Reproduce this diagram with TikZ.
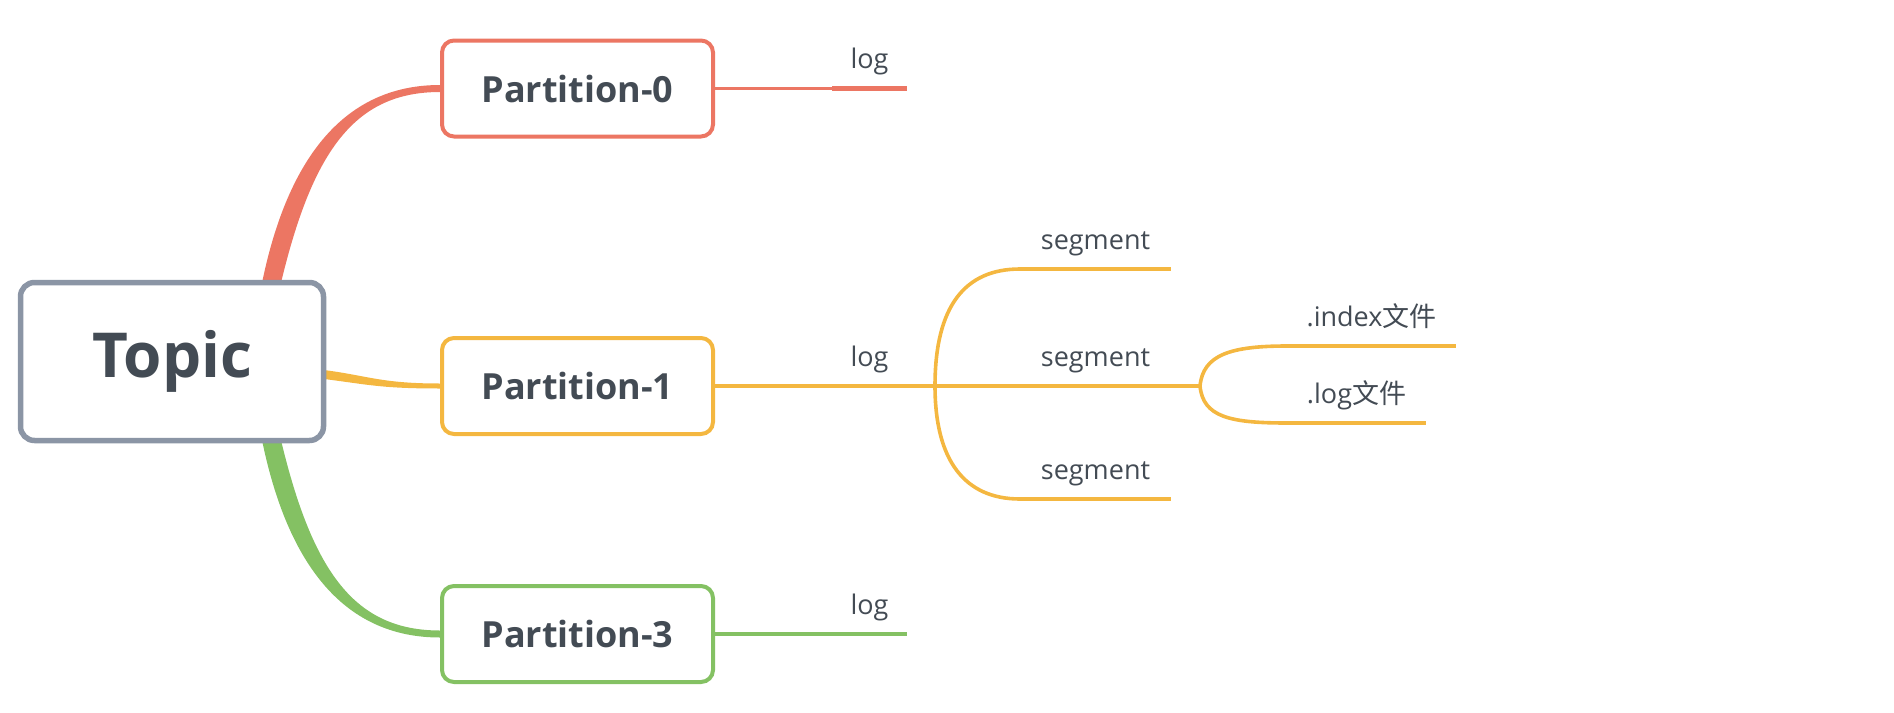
\documentclass[tikz,border=0pt]{standalone}
\usepackage{fontspec}
\setmainfont{Open Sans}
\newfontfamily\cjk{Noto Sans CJK SC}
\usetikzlibrary{backgrounds}
\definecolor{topicgray}{HTML}{8B95A5}
\definecolor{inkgray}{HTML}{434B54}
\definecolor{branchred}{HTML}{EC7663}
\definecolor{branchyellow}{HTML}{F4B740}
\definecolor{branchgreen}{HTML}{84C163}
\begin{document}
\begin{tikzpicture}[x=0.5pt,y=-0.5pt,
	topicbox/.style={draw=topicgray,line width=2.75pt,rounded corners=7pt,fill=white,minimum width=151.5pt,minimum height=79pt,text=inkgray,font=\fontsize{31}{34}\selectfont\bfseries},
	partbox/.style={draw=#1,line width=2pt,rounded corners=6pt,fill=white,minimum width=135.5pt,minimum height=48pt,text=inkgray,font=\fontsize{18}{20}\selectfont\bfseries},
	leaf/.style={anchor=south,inner xsep=0pt,inner ysep=10pt,outer sep=0pt,text depth=0pt,text=inkgray,font=\fontsize{13.5}{15}\selectfont},
	uline/.style={draw=#1,line width=2.25pt},
	conn/.style={draw=#1,line width=1.8pt}]
	   \useasboundingbox (0,0) rectangle (1894,712);
	   \node [topicbox] (topic) at (172,361.5) {Topic};
	   \node [partbox=branchred] (p0) at (577.5,88.5) {Partition-0};
	   \node [partbox=branchyellow] (p1) at (577.5,386) {Partition-1};
	   \node [partbox=branchgreen] (p3) at (577.5,634) {Partition-3};
	   \node [leaf,minimum width=37.5pt] (log0) at (869.5,88.5) {log};
	   \node [leaf,minimum width=37.5pt] (log1) at (869.5,386) {log};
	   \node [leaf,minimum width=37.5pt] (log3) at (869.5,634) {log};
	   \node [leaf,minimum width=75.5pt] (seg0) at (1095.5,269) {segment};
	   \node [leaf,minimum width=75.5pt] (seg1) at (1095.5,386) {segment};
	   \node [leaf,minimum width=75.5pt] (seg2) at (1095.5,499) {segment};
	   \node [leaf,minimum width=84.5pt] (idxfile) at (1371.5,346) {.index{\cjk 文件}};
	   \node [leaf,minimum width=69.5pt] (logfile) at (1356.5,423) {.log{\cjk 文件}};
	   \coordinate (fork1) at ([xshift=14pt]log1.south east);
	   \coordinate (fork2) at ([xshift=14.5pt]seg1.south east);
	   \begin{scope}[on background layer]
	   \fill [branchred] ([xshift=-32pt,yshift=-1pt]topic.north east) .. controls +(28,-135) and +(-88,0) .. ([yshift=1.75pt]p0.west) -- ([yshift=-1.75pt]p0.west) .. controls +(-84,0) and +(32,-133) .. ([xshift=-22.5pt,yshift=-1pt]topic.north east) -- cycle;
	   \fill [branchyellow] ([xshift=-3pt,yshift=-4pt]topic.east) .. controls +(48,6) and +(-60,0) .. ([yshift=1.25pt]p1.west) -- ([yshift=-1.25pt]p1.west) .. controls +(-60,0) and +(48,6) .. ([xshift=-3pt,yshift=-8.5pt]topic.east) -- cycle;
	   \fill [branchgreen] ([xshift=-32pt,yshift=1pt]topic.south east) .. controls +(28,135) and +(-88,0) .. ([yshift=-1.75pt]p3.west) -- ([yshift=1.75pt]p3.west) .. controls +(-84,0) and +(32,133) .. ([xshift=-22.5pt,yshift=1pt]topic.south east) -- cycle;
	   \end{scope}
	   \draw [conn=branchred] (p0.east) -- (log0.south west);
	   \draw [conn=branchyellow] (p1.east) -- (log1.south west);
	   \draw [conn=branchgreen] (p3.east) -- (log3.south west);
	   \draw [uline=branchred] (log0.south west) -- (log0.south east);
	   \draw [uline=branchyellow] (log1.south west) -- (log1.south east) -- (fork1);
	   \draw [uline=branchgreen] (log3.south west) -- (log3.south east);
	   \draw [conn=branchyellow] (fork1) .. controls +(0,-80) and +(-55,0) .. (seg0.south west);
	   \draw [conn=branchyellow] (fork1) -- (seg1.south west);
	   \draw [conn=branchyellow] (fork1) .. controls +(0,75) and +(-55,0) .. (seg2.south west);
	   \draw [uline=branchyellow] (seg0.south west) -- (seg0.south east);
	   \draw [uline=branchyellow] (seg1.south west) -- (seg1.south east);
	   \draw [uline=branchyellow] (seg2.south west) -- (seg2.south east);
	   \draw [conn=branchyellow] (seg1.south east) -- (fork2);
	   \draw [conn=branchyellow] (fork2) .. controls +(3,-31) and +(-57,0) .. (idxfile.south west);
	   \draw [conn=branchyellow] (fork2) .. controls +(3,31) and +(-57,0) .. (logfile.south west);
	   \draw [uline=branchyellow] (idxfile.south west) -- (idxfile.south east);
	   \draw [uline=branchyellow] (logfile.south west) -- (logfile.south east);
\end{tikzpicture}
\end{document}
